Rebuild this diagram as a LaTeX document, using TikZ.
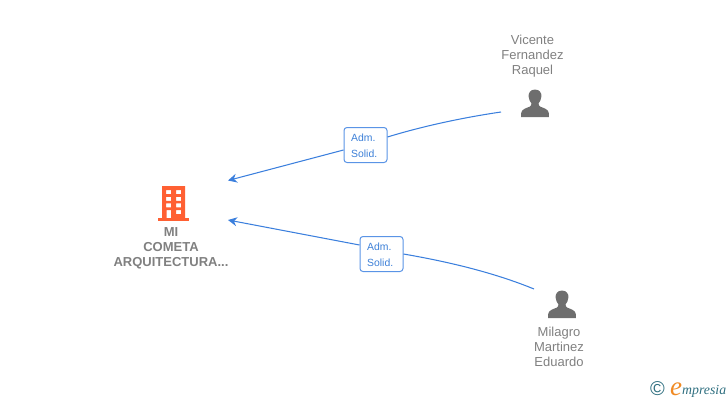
\documentclass[tikz,border=0pt]{standalone}
\usepackage{fontspec}
\setmainfont{Liberation Sans}
\newfontfamily\logofont{Liberation Serif}
\usetikzlibrary{arrows.meta}
\definecolor{linkblue}{HTML}{3B7FDD}
\definecolor{boxblue}{HTML}{5A94E6}
\definecolor{labelblue}{HTML}{3D80D8}
\definecolor{greytext}{HTML}{808080}
\definecolor{icongrey}{HTML}{6E6E6E}
\definecolor{buildorange}{HTML}{FF6033}
\definecolor{logoteal}{HTML}{2F6F80}
\definecolor{logoorange}{HTML}{F08A24}
\tikzset{
  x=1pt,y=-1pt,
  personlabel/.style={align=center,text=greytext,font=\fontsize{13}{15}\selectfont,inner sep=0pt},
  companylabel/.style={align=center,text=greytext,font=\fontsize{13}{15}\selectfont\bfseries,inner sep=0pt},
  rolebox/.style={draw=boxblue,line width=1pt,rounded corners=3pt,fill=white,minimum width=43pt,minimum height=35pt,inner sep=0pt,align=left,text=labelblue,font=\fontsize{10.4}{16}\selectfont},
  roletext/.style={inner sep=0pt,align=left,text=labelblue,font=\fontsize{10.4}{16}\selectfont},
  link/.style={draw=linkblue,line width=1.05pt},
  linkarrow/.style={link,-{Stealth[length=9pt,width=9pt,inset=3pt]}},
}
\newcommand{\personicon}[2]{%
  \begin{scope}[shift={(#1,#2)}]
    \fill[icongrey] (0,-18) .. controls (-4.6,-18) and (-6.8,-14.5) .. (-6.4,-11)
      .. controls (-6.2,-8) and (-4.8,-5.5) .. (-3.6,-4.2)
      .. controls (-3.6,-2.8) and (-3.8,-1.7) .. (-5,-1)
      .. controls (-8,0.4) and (-13.5,1.5) .. (-13.8,5.5)
      -- (-13.8,9.5) -- (13.8,9.5) -- (13.8,5.5)
      .. controls (13.5,1.5) and (8,0.4) .. (5,-1)
      .. controls (3.8,-1.7) and (3.6,-2.8) .. (3.6,-4.2)
      .. controls (4.8,-5.5) and (6.2,-8) .. (6.4,-11)
      .. controls (6.8,-14.5) and (4.6,-18) .. (0,-18) -- cycle;
  \end{scope}}
\begin{document}
\begin{tikzpicture}
\useasboundingbox (0,0) rectangle (728,400);
% building
\fill[buildorange,even odd rule] (162,186) rectangle (185,218)
  (166,190) rectangle (171,194) (176,190) rectangle (181,194)
  (166,196.8) rectangle (171,200.8) (176,196.8) rectangle (181,200.8)
  (166,203.4) rectangle (171,207.4) (176,203.4) rectangle (181,207.4)
  (166.5,210) rectangle (171,218) (176,210) rectangle (181,214);
\fill[buildorange] (158,218) rectangle (189,220.5);
\node[companylabel] (company) at (171,248) {MI\\COMETA\\ARQUITECTURA...};
\coordinate (tipA) at (228,180.5);
\coordinate (tipB) at (228,220);
\coordinate (startA) at (501,112);
\coordinate (startB) at (534,289);
% people
\personicon{535}{107.5}
\personicon{562}{308.5}
\node[personlabel] (vicente) at (532.5,56) {Vicente\\Fernandez\\Raquel};
\node[personlabel] (milagro) at (559,347) {Milagro\\Martinez\\Eduardo};
% connectors
\node[rolebox] (roleA) at (365.5,145) {};
\node[rolebox] (roleB) at (381.5,254) {};
\node[roletext,anchor=west] (textA) at (351,145.5) {Adm.\\Solid.};
\node[roletext,anchor=west] (textB) at (367,254.5) {Adm.\\Solid.};
\draw[link] (startA) .. controls (460,118) and (420,127) .. ([yshift=8pt]roleA.east);
\draw[linkarrow] ([yshift=-5pt]roleA.west) -- (tipA);
\draw[link] (startB) .. controls (495,273) and (450,262) .. (roleB.east);
\draw[linkarrow] ([yshift=9pt]roleB.west) -- (tipB);
% logo
\node[inner sep=0pt,text=logoteal,font=\fontsize{20}{20}\selectfont] (copy) at (657.5,389) {©};
\node[inner sep=0pt,anchor=base west,text=logoorange,font=\logofont\fontsize{27}{27}\selectfont\itshape] (logoe) at (670,395) {e};
\node[inner sep=0pt,anchor=base west,text=logoteal,font=\logofont\fontsize{13.8}{14}\selectfont\itshape] (logotext) at (682,394) {mpresia};
\end{tikzpicture}
\end{document}
